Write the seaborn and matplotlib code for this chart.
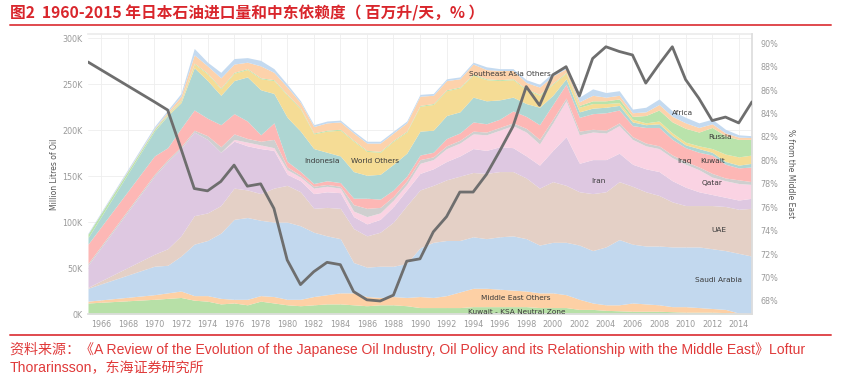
import numpy as np
import pandas as pd
import matplotlib
matplotlib.use("Agg")
import matplotlib.pyplot as plt
import seaborn as sns
from matplotlib import font_manager
from matplotlib.lines import Line2D

# 年份（1965 之后从 1970 开始逐年）
years = [1965] + list(range(1970, 2016))

# 各来源进口量（百万升），自下而上堆叠
neutral_zone = [12, 16, 17, 18, 15, 14, 11, 12, 10, 14, 12, 10, 9, 10, 11, 11, 10, 9, 10, 10, 9, 7, 7, 7, 7, 8, 8, 8, 8, 8,
                7, 7, 7, 5, 5, 4, 3.5, 3, 3, 3, 2.5, 2, 2, 2, 1.5, 0.5, 0]
me_others = [2, 5, 6, 7, 5, 6, 6, 4, 6, 6, 7, 6, 7, 9, 10, 12, 13, 10, 8, 9, 9, 12, 11, 13, 17, 20, 20, 19, 18, 17,
             16, 16, 14, 11, 7, 6, 6.5, 9, 8, 7, 5.5, 6, 5, 4, 3.5, 0.5, 0.5]
saudi = [14, 31, 30, 38, 56, 60, 71, 87, 89, 82, 81, 84, 80, 70, 64, 59, 33, 32, 34, 33, 37, 53, 60, 60, 56, 56, 54, 57, 59, 57,
         52, 55, 57, 59, 57, 63, 71, 64, 63, 64, 65, 65, 66, 65, 64, 65, 62.5]
uae = [1, 13, 18, 22, 31, 30, 30, 34, 30, 29, 37, 40, 37, 26, 31, 33, 37, 34, 37, 48, 63, 63, 62, 66, 70, 70, 71, 71, 70, 66,
       62, 66, 62, 58, 62, 60, 63, 63, 59, 55, 49, 45, 45, 47, 48, 48, 52]
iran = [24, 85, 95, 95, 91, 80, 58, 51, 48, 49, 41, 12, 12, 16, 17, 17, 13, 13, 14, 17, 17, 18, 18, 20, 22, 26, 25, 27, 26, 24,
        25, 34, 53, 31, 37, 35, 31, 24, 25, 26, 23, 20, 15, 12, 10, 10, 11]
qatar = [0, 0, 0, 0, 0, 0, 0, 2, 4, 4, 3, 5, 4, 6, 6, 5, 6, 8, 7, 7, 6, 11, 10, 14, 14, 16, 17, 18, 24, 26,
         23, 30, 39, 31, 30, 29, 30, 27, 25, 25, 25, 25, 24, 19, 18, 18, 15]
iraq = [2, 2, 2, 2, 2, 4, 6, 6, 4, 4, 9, 3, 2, 2, 2, 2, 7, 9, 6, 4, 4, 4, 3, 3, 3, 3, 3, 3, 3, 4,
        5, 4, 3, 4, 3, 3, 3, 3, 3, 3, 3, 3, 3, 4, 3, 4, 3]
kuwait = [21, 20, 13, 20, 22, 19, 24, 22, 19, 7, 18, 6, 4, 3, 4, 4, 7, 11, 9, 7, 5, 5, 5, 8, 8, 10, 9, 9, 13, 13,
          16, 16, 15, 15, 17, 19, 14, 12, 17, 20, 17, 15, 16, 20, 15, 13, 16]
indonesia = [7, 27, 35, 28, 46, 41, 32, 36, 48, 49, 32, 48, 44, 38, 31, 29, 29, 25, 27, 28, 25, 26, 24, 25, 23, 27, 25, 21, 15, 14,
             19, 10, 6, 6, 6, 6, 5, 4, 3, 4, 4, 3, 4, 3, 3, 3, 4]
world_others = [0, 0, 1, 2, 4, 7, 7, 8, 8, 12, 14, 24, 24, 16, 23, 28, 33, 26, 24, 25, 23, 27, 28, 27, 26, 24, 23, 21, 19, 15,
                13, 12, 6, 5, 5, 4, 3, 3, 2, 3, 3, 3, 3, 4, 8, 9, 9]
russia = [4, 2, 1, 1, 1, 1, 1, 1, 1, 1, 1, 1, 1, 1, 1, 1, 1, 1, 1, 1, 1, 1, 1, 1, 1, 1, 1, 1, 1, 1,
          1, 1, 1, 2, 3, 3, 4, 3, 8, 12, 12, 15, 15, 23, 20, 19, 17]
sea_others = [0, 1, 2, 4, 9, 8, 11, 9, 7, 13, 8, 8, 6, 7, 8, 8, 8, 8, 9, 8, 9, 10, 9, 10, 9, 11, 10, 10, 9, 7,
              8, 8, 4, 4, 6, 4, 4, 4, 4, 6, 6, 6, 5, 4, 3, 2.5, 2]
africa = [1, 2, 2, 3, 7, 4, 6, 6, 5, 6, 4, 3, 2, 2, 2, 2, 2, 2, 2, 2, 2, 2, 2, 2, 2, 2, 3, 2, 2, 3,
          3, 4, 2, 5, 7, 5, 5, 4, 5, 6, 6, 6, 5, 5, 4, 2.5, 2]

# 中东依赖度（%）
me_share = [88.4, 85.0, 84.3, 81.0, 77.6, 77.4, 78.2, 79.6, 77.8, 78.0, 75.9, 71.5, 69.4, 70.5, 71.3, 71.1, 68.8, 68.1,
            68.0, 68.5, 71.4, 71.6, 73.9, 75.2, 77.3, 77.3, 78.8, 80.8, 82.9, 86.3, 84.7, 87.3, 88.0, 85.5, 88.7, 89.7,
            89.3, 89.0, 86.6, 88.2, 89.7, 86.9, 85.3, 83.4, 83.7, 83.2, 85.0]

series_names = ["Kuwait - KSA Neutral Zone", "Middle East Others", "Saudi Arabia", "UAE", "Iran", "Qatar", "Iraq",
                "Kuwait", "Indonesia", "World Others", "Russia", "Southeast Asia Others", "Africa"]
series_vals = [neutral_zone, me_others, saudi, uae, iran, qatar, iraq, kuwait, indonesia, world_others, russia,
               sea_others, africa]
colors = ["#b7e0a7", "#fdd0a5", "#c2d8ee", "#e4d0c6", "#dec8e1", "#fad3e3", "#cfcfcf", "#fdb7b5", "#aed6d3",
          "#f5dc95", "#b9e3ab", "#fdd2ab", "#c4daf0"]

df = pd.DataFrame({"year": years, "share": me_share})

sns.set_theme(style="white")
cjk = ["Noto Sans CJK SC", "DejaVu Sans"]
try:
    font_manager.findfont("Liberation Sans Narrow", fallback_to_default=False)
    narrow = ["Liberation Sans Narrow", "Noto Sans CJK SC"]
    src_size = 10.5
except Exception:
    narrow = ["Liberation Sans", "Noto Sans CJK SC"]
    src_size = 10.1
plt.rcParams["font.family"] = ["DejaVu Sans"]

fig = plt.figure(figsize=(8.41, 3.75), dpi=100)
ax = fig.add_axes([88 / 841, 1 - 314 / 375, (752 - 88) / 841, (314 - 34) / 375])

ax.stackplot(years, *series_vals, colors=colors, linewidth=0, zorder=2)
ax.set_xlim(1965, 2015)
ax.set_ylim(0, 304.7)
ax.set_xticks(range(1966, 2015, 2))
ax.set_yticks(range(0, 301, 50))
ax.set_yticklabels([f"{v}K" for v in range(0, 301, 50)])
ax.tick_params(axis="both", length=0, labelsize=5.8, labelcolor="#9a9a9a", pad=4)
ax.grid(True, color="#eeeeee", lw=0.6, zorder=0)
ax.set_axisbelow(True)
for s in ["left", "right"]:
    ax.spines[s].set_visible(False)
ax.spines["top"].set_color("#ececec")
ax.spines["bottom"].set_color("#dddddd")
ax.set_ylabel("Million Litres of Oil", fontsize=5.5, color="#555555", labelpad=2)

ax2 = ax.twinx()
sns.lineplot(data=df, x="year", y="share", ax=ax2, color="#6e6e6e", lw=2.0, zorder=5)
ax2.set_ylim(66.89, 90.79)
ax2.set_yticks(range(68, 91, 2))
ax2.set_yticklabels([f"{v}%" for v in range(68, 91, 2)])
ax2.tick_params(axis="y", length=0, labelsize=5.8, labelcolor="#9a9a9a", pad=6)
ax2.set_ylabel("% from the Middle East", fontsize=5.5, color="#555555", rotation=270, labelpad=12)
ax2.set_xlabel("")
for s in ["left", "top", "bottom"]:
    ax2.spines[s].set_visible(False)
ax2.spines["right"].set_color("#dddddd")
ax2.grid(False)

# 区域标签
labels = [
    ("Southeast Asia Others", 1996.8, 260.7), ("Indonesia", 1982.6, 167), ("World Others", 1986.6, 167),
    ("Africa", 2009.8, 219), ("Russia", 2012.6, 192.5), ("Iraq", 2009.9, 166), ("Kuwait", 2012.0, 167),
    ("Qatar", 2012.0, 143), ("Iran", 2003.4, 145), ("UAE", 2012.5, 91), ("Saudi Arabia", 2012.5, 37),
    ("Middle East Others", 1997.2, 17.6), ("Kuwait - KSA Neutral Zone", 1997.3, 2.5),
]
for txt, lx, ly in labels:
    ax.text(lx, ly, txt, fontsize=5.3, color="#3a3a3a", ha="center", va="center", zorder=4)

red = "#d9262c"
fig.text(10 / 841, 1 - 13 / 375, "图2  1960-2015 年日本石油进口量和中东依赖度（ 百万升/天，% ）",
         fontsize=11.3, fontweight="bold", color=red, family=cjk, va="center", ha="left")
fig.add_artist(Line2D([10 / 841, 831 / 841], [1 - 25 / 375] * 2, color="#e04a4e", lw=1.4))
fig.add_artist(Line2D([10 / 841, 831 / 841], [1 - 335 / 375] * 2, color="#e04a4e", lw=1.4))
fig.text(10 / 841, 1 - 349 / 375,
         "资料来源：《A Review of the Evolution of the Japanese Oil Industry, Oil Policy and its Relationship with the Middle East》Loftur",
         fontsize=src_size, color="#e03a3a", family=narrow, va="center", ha="left")
fig.text(10 / 841, 1 - 368 / 375, "Thorarinsson，东海证券研究所",
         fontsize=src_size, color="#e03a3a", family=narrow, va="center", ha="left")

fig.savefig("out.png", dpi=100)
